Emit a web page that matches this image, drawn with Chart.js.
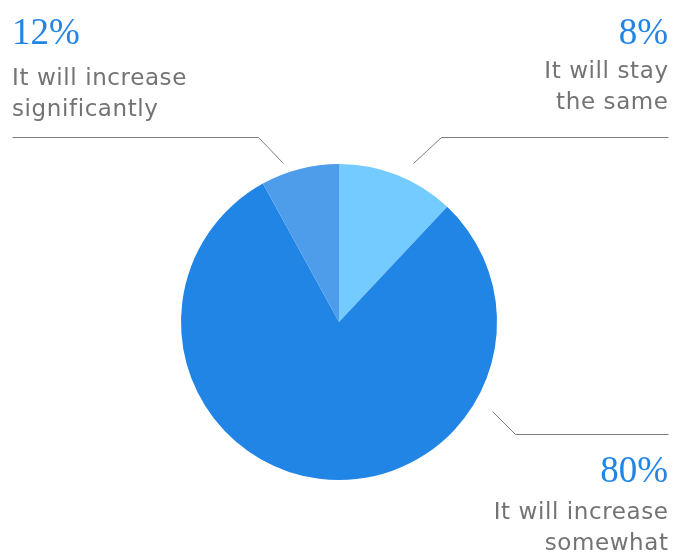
<!DOCTYPE html>
<html>
<head>
<meta charset="utf-8">
<script src="https://cdn.jsdelivr.net/npm/chart.js@4/dist/chart.umd.min.js"></script>
<style>
  html, body { margin: 0; padding: 0; background: #fff; }
  #wrap { width: 683px; height: 555px; position: relative; }
</style>
</head>
<body>
<div id="wrap"><canvas id="pie"></canvas></div>
<script>
// slices as drawn, clockwise from 12 o'clock
const sliceValues = [12, 80, 8];
const sliceColors = ['#73CBFF', '#2185E5', '#4D9DEB'];

// callout texts, in the same clockwise order
const pctLabels = ['8%', '80%', '12%'];
const categories = [
    ['It will stay', 'the same'],
    ['It will increase', 'somewhat'],
    ['It will increase', 'significantly']
];

// where each callout sits (layout only)
const callouts = [
    { align: 'right', x: 668, pctY: 44, textY: 78, line: [[668, 137], [441, 137], [413, 163]] },
    { align: 'right', x: 668, pctY: 482, textY: 519, line: [[492, 411], [515, 434], [668, 434]] },
    { align: 'left', x: 12, pctY: 44, textY: 85, line: [[12, 137], [258, 137], [283, 163]] }
];

const calloutPlugin = {
    id: 'callouts',
    afterDraw: function(chart) {
        const ctx = chart.ctx;
        ctx.save();
        callouts.forEach((c, i) => {
            ctx.strokeStyle = '#7e7e7e';
            ctx.lineWidth = 1;
            ctx.beginPath();
            c.line.forEach((p, j) => {
                if (j === 0) ctx.moveTo(p[0] + 0.5, p[1] + 0.5);
                else ctx.lineTo(p[0] + 0.5, p[1] + 0.5);
            });
            ctx.stroke();

            ctx.textAlign = c.align;
            ctx.textBaseline = 'alphabetic';
            ctx.letterSpacing = '0px';
            ctx.fillStyle = '#2185E5';
            ctx.font = '37px "Liberation Serif", serif';
            ctx.fillText(pctLabels[i], c.x, c.pctY);

            ctx.fillStyle = '#737373';
            ctx.font = '23px "DejaVu Sans", sans-serif';
            ctx.letterSpacing = '0.6px';
            categories[i].forEach((ln, k) => {
                // letterSpacing adds a trailing gap, shift right-aligned text back
                const dx = c.align === 'right' ? 0.6 : 0;
                ctx.fillText(ln, c.x + dx, c.textY + k * 31);
            });
        });
        ctx.restore();
    }
};

const canvas = document.getElementById('pie');
canvas.width = 683;
canvas.height = 555;

new Chart(canvas.getContext('2d'), {
    type: 'pie',
    data: {
        labels: categories.map(c => c.join(' ')),
        datasets: [{
            data: sliceValues,
            backgroundColor: sliceColors,
            borderWidth: 0
        }]
    },
    options: {
        responsive: false,
        animation: false,
        layout: { padding: { left: 181, right: 186, top: 164, bottom: 75 } },
        plugins: {
            legend: { display: false },
            tooltip: { enabled: false }
        }
    },
    plugins: [calloutPlugin]
});
</script>
</body>
</html>
